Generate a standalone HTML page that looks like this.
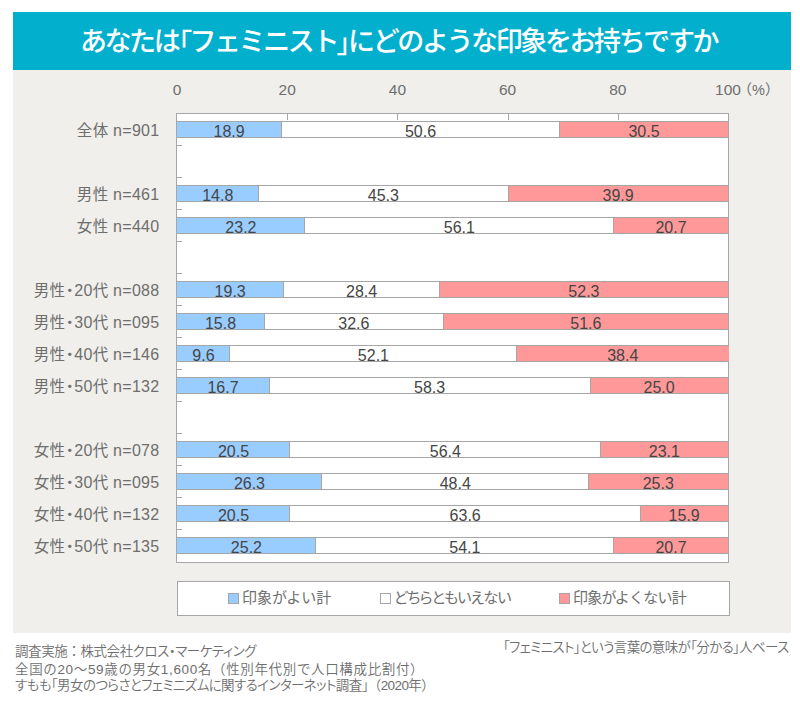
<!DOCTYPE html>
<html lang="ja"><head><meta charset="utf-8">
<style>
html,body{margin:0;padding:0;background:#fff;width:800px;height:703px;overflow:hidden;position:relative}
body{font-family:"Liberation Sans","Noto Sans CJK JP",sans-serif}
.hd{position:absolute;left:13px;top:12px;width:771px;padding-right:7px;height:58px;background:#02B0CE;color:#fff;text-align:center;font-size:27px;font-weight:500;letter-spacing:-2.4px;line-height:60px;white-space:nowrap}
.pa{font-feature-settings:"palt";position:relative;top:2px}
.np{font-feature-settings:normal}
.pn{position:absolute;left:13px;top:70px;width:778px;height:563px;background:#F0EFEB}
.chart{position:absolute;background:#fff;border:1px solid #A6A6A6;box-sizing:border-box}
.vt{position:absolute;width:1px;height:6px;background:#A6A6A6}
.ht{position:absolute;width:5px;height:1px;background:#A6A6A6}
.ax{position:absolute;top:80px;width:60px;text-align:center;font-size:15.5px;line-height:20px;color:#6E6E6E}
.pct{position:absolute;top:80px;font-size:14.5px;line-height:20px;color:#6E6E6E}
.dot{margin:0 0.4px}
.lt{font-size:16px}
.cat{position:absolute;left:0;width:159.5px;text-align:right;font-size:15.5px;font-feature-settings:"palt";letter-spacing:0.3px;line-height:17px;color:#6E6E6E;white-space:nowrap}
.bar{position:absolute;left:177px;width:551px;height:17px;box-sizing:border-box;border-top:1px solid #A6A6A6;border-bottom:1px solid #A6A6A6}
.seg{position:absolute;height:15px;text-align:center;font-size:16px;line-height:15px;color:#454545;overflow:visible;white-space:nowrap}
.seg span{position:relative;top:2px}
.dv{position:absolute;width:1px;height:15px;background:#A6A6A6}
.lg{position:absolute;left:177px;top:581px;width:553px;height:35px;background:#fff;border:1px solid #A6A6A6;box-sizing:border-box}
.li{position:absolute;top:589px;font-size:15px;line-height:18px;color:#6E6E6E;white-space:nowrap}
.sw{display:inline-block;width:11px;height:11px;border:1px solid #A6A6A6;box-sizing:border-box;margin-right:3px;vertical-align:-1px}
.fn{position:absolute;left:15px;top:641px;font-size:13.5px;font-weight:350;line-height:17px;color:#6E6E6E;white-space:nowrap}
.fr{position:absolute;left:503px;top:639px;font-size:13.5px;font-weight:350;line-height:17px;color:#6E6E6E;white-space:nowrap}
</style></head><body>
<div class="hd">あなたは<span class="pa">「</span>フェミニスト<span class="pa">」</span>にどのような印象をお持ちですか</div>
<div class="pn"></div>
<div class="chart" style="left:176px;top:113px;width:553px;height:450px"></div>
<div class="vt" style="left:287px;top:114px"></div>
<div class="vt" style="left:397px;top:114px"></div>
<div class="vt" style="left:508px;top:114px"></div>
<div class="vt" style="left:618px;top:114px"></div>
<div class="ht" style="left:177px;top:145px"></div>
<div class="ht" style="left:177px;top:177px"></div>
<div class="ht" style="left:177px;top:209px"></div>
<div class="ht" style="left:177px;top:241px"></div>
<div class="ht" style="left:177px;top:273px"></div>
<div class="ht" style="left:177px;top:305px"></div>
<div class="ht" style="left:177px;top:337px"></div>
<div class="ht" style="left:177px;top:369px"></div>
<div class="ht" style="left:177px;top:401px"></div>
<div class="ht" style="left:177px;top:433px"></div>
<div class="ht" style="left:177px;top:465px"></div>
<div class="ht" style="left:177px;top:497px"></div>
<div class="ht" style="left:177px;top:529px"></div>
<div class="ax" style="left:147.00px">0</div>
<div class="ax" style="left:257.20px">20</div>
<div class="ax" style="left:367.40px">40</div>
<div class="ax" style="left:477.60px">60</div>
<div class="ax" style="left:587.80px">80</div>
<div class="ax" style="left:698.00px">100</div>
<div class="pct" style="left:737.50px">（%）</div>
<div class="cat" style="top:122px">全体 <span class="lt">n=901</span></div>
<div class="bar" style="top:121px"></div>
<div class="seg" style="left:177.00px;top:122px;width:104.14px;background:#99CCFF"><span>18.9</span></div>
<div class="seg" style="left:281.14px;top:122px;width:278.81px;background:#FFFFFF"><span>50.6</span></div>
<div class="seg" style="left:559.94px;top:122px;width:168.06px;background:#FF9999"><span>30.5</span></div>
<div class="dv" style="left:281px;top:122px"></div>
<div class="dv" style="left:559px;top:122px"></div>
<div class="cat" style="top:186px">男性 <span class="lt">n=461</span></div>
<div class="bar" style="top:185px"></div>
<div class="seg" style="left:177.00px;top:186px;width:81.55px;background:#99CCFF"><span>14.8</span></div>
<div class="seg" style="left:258.55px;top:186px;width:249.60px;background:#FFFFFF"><span>45.3</span></div>
<div class="seg" style="left:508.15px;top:186px;width:219.85px;background:#FF9999"><span>39.9</span></div>
<div class="dv" style="left:258px;top:186px"></div>
<div class="dv" style="left:508px;top:186px"></div>
<div class="cat" style="top:218px">女性 <span class="lt">n=440</span></div>
<div class="bar" style="top:217px"></div>
<div class="seg" style="left:177.00px;top:218px;width:127.83px;background:#99CCFF"><span>23.2</span></div>
<div class="seg" style="left:304.83px;top:218px;width:309.11px;background:#FFFFFF"><span>56.1</span></div>
<div class="seg" style="left:613.94px;top:218px;width:114.06px;background:#FF9999"><span>20.7</span></div>
<div class="dv" style="left:304px;top:218px"></div>
<div class="dv" style="left:613px;top:218px"></div>
<div class="cat" style="top:282px">男性<span class="dot">・</span><span class="lt">20</span>代 <span class="lt">n=088</span></div>
<div class="bar" style="top:281px"></div>
<div class="seg" style="left:177.00px;top:282px;width:106.34px;background:#99CCFF"><span>19.3</span></div>
<div class="seg" style="left:283.34px;top:282px;width:156.48px;background:#FFFFFF"><span>28.4</span></div>
<div class="seg" style="left:439.83px;top:282px;width:288.17px;background:#FF9999"><span>52.3</span></div>
<div class="dv" style="left:283px;top:282px"></div>
<div class="dv" style="left:439px;top:282px"></div>
<div class="cat" style="top:314px">男性<span class="dot">・</span><span class="lt">30</span>代 <span class="lt">n=095</span></div>
<div class="bar" style="top:313px"></div>
<div class="seg" style="left:177.00px;top:314px;width:87.06px;background:#99CCFF"><span>15.8</span></div>
<div class="seg" style="left:264.06px;top:314px;width:179.63px;background:#FFFFFF"><span>32.6</span></div>
<div class="seg" style="left:443.68px;top:314px;width:284.32px;background:#FF9999"><span>51.6</span></div>
<div class="dv" style="left:264px;top:314px"></div>
<div class="dv" style="left:443px;top:314px"></div>
<div class="cat" style="top:346px">男性<span class="dot">・</span><span class="lt">40</span>代 <span class="lt">n=146</span></div>
<div class="bar" style="top:345px"></div>
<div class="seg" style="left:177.00px;top:346px;width:52.90px;background:#99CCFF"><span>9.6</span></div>
<div class="seg" style="left:229.90px;top:346px;width:287.07px;background:#FFFFFF"><span>52.1</span></div>
<div class="seg" style="left:516.97px;top:346px;width:211.58px;background:#FF9999"><span>38.4</span></div>
<div class="dv" style="left:229px;top:346px"></div>
<div class="dv" style="left:516px;top:346px"></div>
<div class="cat" style="top:378px">男性<span class="dot">・</span><span class="lt">50</span>代 <span class="lt">n=132</span></div>
<div class="bar" style="top:377px"></div>
<div class="seg" style="left:177.00px;top:378px;width:92.02px;background:#99CCFF"><span>16.7</span></div>
<div class="seg" style="left:269.02px;top:378px;width:321.23px;background:#FFFFFF"><span>58.3</span></div>
<div class="seg" style="left:590.25px;top:378px;width:137.75px;background:#FF9999"><span>25.0</span></div>
<div class="dv" style="left:269px;top:378px"></div>
<div class="dv" style="left:590px;top:378px"></div>
<div class="cat" style="top:442px">女性<span class="dot">・</span><span class="lt">20</span>代 <span class="lt">n=078</span></div>
<div class="bar" style="top:441px"></div>
<div class="seg" style="left:177.00px;top:442px;width:112.95px;background:#99CCFF"><span>20.5</span></div>
<div class="seg" style="left:289.95px;top:442px;width:310.76px;background:#FFFFFF"><span>56.4</span></div>
<div class="seg" style="left:600.72px;top:442px;width:127.28px;background:#FF9999"><span>23.1</span></div>
<div class="dv" style="left:289px;top:442px"></div>
<div class="dv" style="left:600px;top:442px"></div>
<div class="cat" style="top:474px">女性<span class="dot">・</span><span class="lt">30</span>代 <span class="lt">n=095</span></div>
<div class="bar" style="top:473px"></div>
<div class="seg" style="left:177.00px;top:474px;width:144.91px;background:#99CCFF"><span>26.3</span></div>
<div class="seg" style="left:321.91px;top:474px;width:266.68px;background:#FFFFFF"><span>48.4</span></div>
<div class="seg" style="left:588.60px;top:474px;width:139.40px;background:#FF9999"><span>25.3</span></div>
<div class="dv" style="left:321px;top:474px"></div>
<div class="dv" style="left:588px;top:474px"></div>
<div class="cat" style="top:506px">女性<span class="dot">・</span><span class="lt">40</span>代 <span class="lt">n=132</span></div>
<div class="bar" style="top:505px"></div>
<div class="seg" style="left:177.00px;top:506px;width:112.95px;background:#99CCFF"><span>20.5</span></div>
<div class="seg" style="left:289.95px;top:506px;width:350.44px;background:#FFFFFF"><span>63.6</span></div>
<div class="seg" style="left:640.39px;top:506px;width:87.61px;background:#FF9999"><span>15.9</span></div>
<div class="dv" style="left:289px;top:506px"></div>
<div class="dv" style="left:640px;top:506px"></div>
<div class="cat" style="top:538px">女性<span class="dot">・</span><span class="lt">50</span>代 <span class="lt">n=135</span></div>
<div class="bar" style="top:537px"></div>
<div class="seg" style="left:177.00px;top:538px;width:138.85px;background:#99CCFF"><span>25.2</span></div>
<div class="seg" style="left:315.85px;top:538px;width:298.09px;background:#FFFFFF"><span>54.1</span></div>
<div class="seg" style="left:613.94px;top:538px;width:114.06px;background:#FF9999"><span>20.7</span></div>
<div class="dv" style="left:315px;top:538px"></div>
<div class="dv" style="left:613px;top:538px"></div>
<div class="lg"></div>
<div class="li" style="left:228px"><span class="sw" style="background:#99CCFF"></span>印象がよい計</div>
<div class="li" style="left:380px;font-feature-settings:'palt';letter-spacing:-0.8px"><span class="sw" style="background:#fff"></span>どちらともいえない</div>
<div class="li" style="left:559px;letter-spacing:-0.8px"><span class="sw" style="background:#FF9999"></span>印象がよくない計</div>
<div class="fn" style="top:643px;font-feature-settings:'palt';letter-spacing:-0.42px">調査実施<span class="np">：</span>株式会社クロス・マーケティング</div>
<div class="fn" style="top:661px;letter-spacing:0.65px">全国の20～59歳の男女1,600名（性別年代別で人口構成比割付）</div>
<div class="fn" style="top:677px;font-feature-settings:'palt';letter-spacing:-0.60px">すもも「男女のつらさとフェミニズムに関するインターネット調査<span class="np">」（2020年）</span></div>
<div class="fr" style="font-feature-settings:'palt';letter-spacing:-0.64px">「フェミニスト」という言葉の意味が「分かる」人ベース</div>
</body></html>
